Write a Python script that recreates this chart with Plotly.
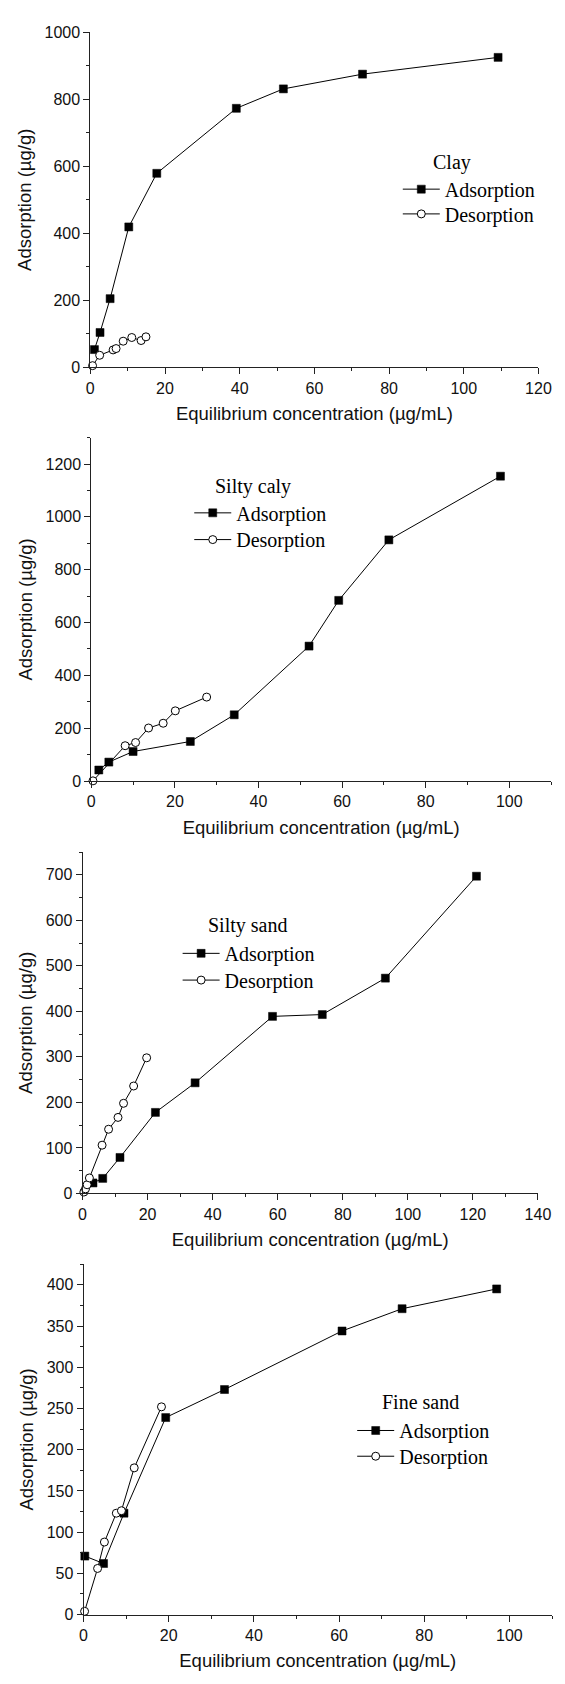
import plotly.graph_objects as go

W, H = 565, 1684

# ---------------- data ----------------
soil_names = ["Clay", "Silty caly", "Silty sand", "Fine sand"]

clay_ads_x = [1.1, 2.6, 5.3, 10.3, 17.8, 39.1, 51.7, 72.9, 109.2]
clay_ads_y = [53, 104, 205, 419, 579, 773, 831, 875, 925]
clay_des_x = [0.6, 2.5, 6.1, 6.9, 8.8, 11.1, 13.6, 14.9]
clay_des_y = [5, 36, 52, 56, 78, 89, 80, 91]

silty_clay_ads_x = [1.8, 4.2, 10.0, 23.7, 34.2, 52.1, 59.2, 71.2, 97.9]
silty_clay_ads_y = [42, 72, 112, 150, 251, 511, 684, 913, 1154]
silty_clay_des_x = [0.4, 8.1, 10.6, 13.7, 17.2, 20.1, 27.6]
silty_clay_des_y = [1, 134, 146, 201, 219, 266, 318]

silty_sand_ads_x = [3.2, 6.2, 11.5, 22.4, 34.6, 58.4, 73.7, 93.1, 121.1]
silty_sand_ads_y = [23, 33, 79, 178, 243, 389, 393, 473, 697]
silty_sand_des_x = [0.4, 0.9, 1.4, 2.1, 6.0, 8.0, 10.9, 12.6, 15.7, 19.7]
silty_sand_des_y = [3, 10, 19, 34, 106, 141, 167, 198, 236, 298]

fine_sand_ads_x = [0.3, 4.7, 9.5, 19.3, 33.1, 60.7, 74.8, 97.0]
fine_sand_ads_y = [71, 62, 123, 239, 273, 344, 371, 395]
fine_sand_des_x = [0.25, 3.3, 4.9, 7.7, 8.9, 11.9, 18.3]
fine_sand_des_y = [4, 56, 88, 123, 126, 178, 252]

x_ranges = [[0, 120], [0, 110], [0, 140], [0, 110]]
y_ranges = [[0, 1000], [0, 1300], [0, 750], [0, 425]]
y_dticks = [200, 200, 100, 50]
x_dtick = 20

series = [
    (clay_ads_x, clay_ads_y, clay_des_x, clay_des_y),
    (silty_clay_ads_x, silty_clay_ads_y, silty_clay_des_x, silty_clay_des_y),
    (silty_sand_ads_x, silty_sand_ads_y, silty_sand_des_x, silty_sand_des_y),
    (fine_sand_ads_x, fine_sand_ads_y, fine_sand_des_x, fine_sand_des_y),
]

x_title = "Equilibrium concentration (µg/mL)"
y_title = "Adsorption (µg/g)"

# ---------------- layout geometry (pixels) ----------------
# (left, right, top, bottom) of each plot area
boxes = [(89, 551, 24.5, 363), (90, 564, 434, 781), (81, 550.5, 852.7, 1197.5), (82, 565, 1269, 1623)]
# legend: line start x, item centre y's, title left x, title centre y
legend_pos = [
    (411, (183, 208), 440, 156),
    (196, (510, 537), 215, 483),
    (184, (955, 982), 208, 927),
    (364, (1437, 1463), 388, 1408),
]

AX = "#222222"
SANS = "Liberation Sans, Arial, sans-serif"
SERIF = "Liberation Serif, Times New Roman, serif"

fig = go.Figure()
layout = dict(
    width=W, height=H,
    margin=dict(l=0, r=0, t=0, b=0),
    paper_bgcolor="white", plot_bgcolor="white",
    showlegend=True,
    annotations=[],
)

for i, (ax_x, ax_y, ds_x, ds_y) in enumerate(series):
    n = "" if i == 0 else str(i + 1)
    lg_a = "legend" if i == 0 else f"legend{2 * i + 1}"
    lg_d = f"legend{2 * i + 2}"
    fig.add_trace(go.Scatter(
        x=ax_x, y=ax_y, mode="lines+markers", name="Adsorption",
        xaxis="x" + n, yaxis="y" + n, legend=lg_a, cliponaxis=False,
        line=dict(color="black", width=1),
        marker=dict(symbol="square", size=8, color="black", line=dict(color="black", width=0.5)),
    ))
    fig.add_trace(go.Scatter(
        x=ds_x, y=ds_y, mode="lines+markers", name="Desorption",
        xaxis="x" + n, yaxis="y" + n, legend=lg_d, cliponaxis=False,
        line=dict(color="black", width=1),
        marker=dict(symbol="circle", size=8, color="white", line=dict(color="black", width=1)),
    ))

    l, r, t, b = boxes[i]
    common = dict(
        showline=True, linecolor=AX, linewidth=1, showgrid=False, zeroline=False,
        ticks="outside", ticklen=6, tickwidth=1, tickcolor=AX,
        tickfont=dict(family=SANS, size=16, color="#111111"),
        fixedrange=True,
    )
    xa = dict(common)
    xa.update(domain=[l / W, min(r / W, 1.0)], range=x_ranges[i], dtick=x_dtick, tick0=0,
              anchor="y" + n, title=dict(text=x_title, standoff=11,
                                         font=dict(family=SANS, size=18.5, color="#111111")))
    xa["minor"] = dict(ticks="outside", ticklen=3, tickwidth=1, tickcolor=AX, dtick=x_dtick / 2)
    ya = dict(common)
    ya.update(domain=[1 - b / H, 1 - t / H], range=y_ranges[i], dtick=y_dticks[i], tick0=0,
              anchor="x" + n, title=dict(text=y_title, standoff=8,
                                         font=dict(family=SANS, size=18.5, color="#111111")))
    ya["minor"] = dict(ticks="outside", ticklen=3, tickwidth=1, tickcolor=AX, dtick=y_dticks[i] / 2)
    layout["xaxis" + n] = xa
    layout["yaxis" + n] = ya

    lx, (ya_c, yd_c), tx, ty = legend_pos[i]
    for lg, yc in ((lg_a, ya_c), (lg_d, yd_c)):
        layout[lg] = dict(
            x=(lx - 5) / W, xanchor="left", y=1 - yc / H, yanchor="middle",
            bgcolor="rgba(0,0,0,0)", borderwidth=0,
            font=dict(family=SERIF, size=20, color="black"),
            itemwidth=37,
        )
    layout["annotations"].append(dict(
        text=soil_names[i], x=tx / W, y=1 - ty / H, xref="paper", yref="paper",
        xanchor="left", yanchor="middle", showarrow=False,
        font=dict(family=SERIF, size=20, color="black"),
    ))

fig.update_layout(**layout)
fig.write_html("out.html", config={"displayModeBar": False},
               post_script="document.body.style.margin='0';")
